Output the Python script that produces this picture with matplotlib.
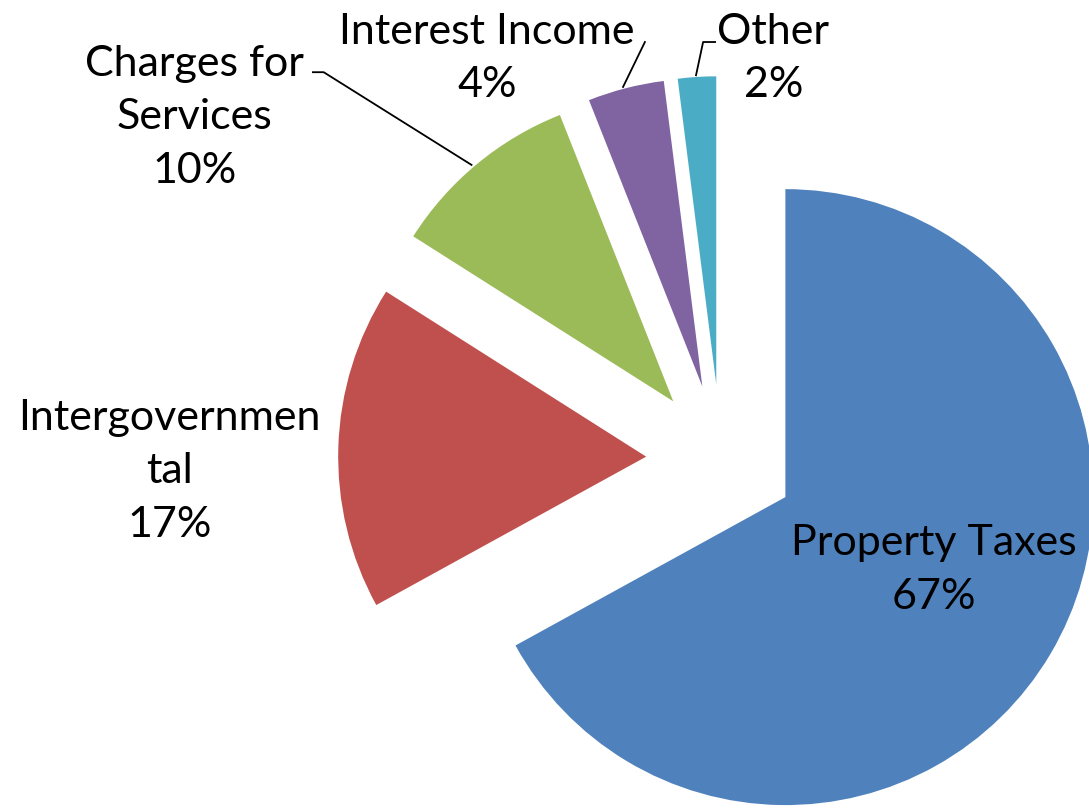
import numpy as np
import matplotlib.pyplot as plt

# data
categories = ['Property Taxes', 'Intergovernmental', 'Charges for Services', 'Interest Income', 'Other']
label_texts = ['Property Taxes\n67%', 'Intergovernmen\ntal\n17%', 'Charges for\nServices\n10%',
               'Interest Income\n4%', 'Other\n2%']
values = [67, 17, 10, 4, 2]
colors = ['#4F81BD', '#C0504D', '#9BBB59', '#8064A2', '#4BACC6']

# label positions (data units, pie radius = 1) and leader-line paths (None = no line)
label_pos = [(0.69, -0.36), (-1.79, -0.04), (-1.71, 1.11), (-0.76, 1.30), (0.17, 1.30)]
leaders = [None, None,
           [(-1.325, 1.256), (-1.29, 1.256), (-0.81, 0.955)],
           [(-0.247, 1.354), (-0.318, 1.208)],
           [(-0.019, 1.354), (-0.058, 1.354), (-0.081, 1.246)]]

plt.rcParams['font.family'] = ['Lato', 'DejaVu Sans']

fig = plt.figure(figsize=(10.89, 8.09), dpi=100)
ax = fig.add_axes([0, 0, 1, 1])
ax.pie(values, colors=colors, startangle=90, counterclock=False,
       explode=[0.243] * len(values), radius=1.0)
ax.set_xlim(-2.341, 1.195)
ax.set_ylim(-1.136, 1.490)
ax.set_aspect('equal')
ax.axis('off')

for txt, (x, y) in zip(label_texts, label_pos):
    ax.text(x, y, txt, ha='center', va='center', fontsize=31, linespacing=1.5, color='black')

for path in leaders:
    if path is None:
        continue
    xs, ys = zip(*path)
    ax.plot(xs, ys, color='black', lw=1.3)

fig.savefig('out.png', dpi=100)
